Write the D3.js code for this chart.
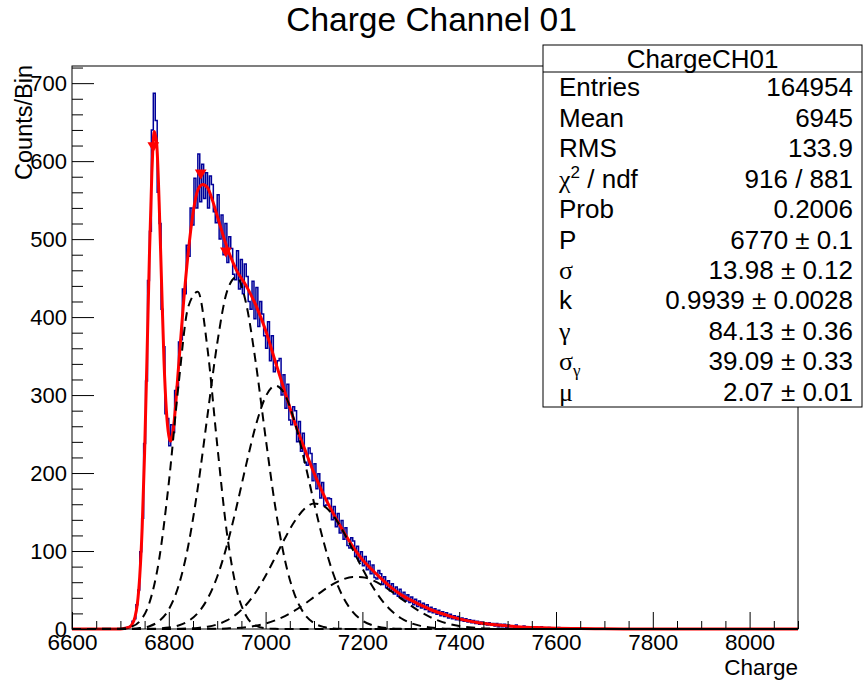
<!DOCTYPE html>
<html>
<head>
<meta charset="utf-8">
<script src="https://cdn.jsdelivr.net/npm/d3@7"></script>
<style>
  body { margin: 0; background: #fff; }
  svg text { font-family: "Liberation Sans", Arial, Helvetica, sans-serif; fill: #000; }
  .greek { font-family: "Liberation Serif", "DejaVu Serif", serif; }
</style>
</head>
<body>
<svg id="chart" width="863" height="681"></svg>
<script>
// histogram, 4-unit bins starting at histStart (counts)
const histStart = 6700;
const histStep = 4;
const histCounts = [
  0, 0, 1, 2, 3, 4, 10, 13, 31, 50,
  99, 142, 238, 318, 447, 510, 640, 687, 652, 560,
  520, 410, 362, 276, 270, 235, 262, 252, 306, 311,
  368, 371, 436, 430, 492, 478, 540, 518, 578, 540,
  609, 548, 596, 552, 585, 540, 581, 570, 535, 521,
  557, 500, 531, 480, 520, 470, 503, 488, 455, 448,
  485, 436, 474, 430, 468, 452, 420, 410, 446, 398,
  438, 388, 420, 404, 376, 360, 394, 344, 376, 330,
  336, 344, 347, 300, 326, 283, 314, 268, 262, 285,
  280, 240, 266, 228, 251, 214, 210, 232, 225, 190,
  212, 180, 199, 168, 188, 158, 159, 168, 167, 140,
  157, 131, 148, 123, 139, 115, 130, 107, 104, 117,
  113, 93, 106, 87, 99, 81, 93, 76, 87, 71,
  82, 66, 64, 75, 71, 57, 67, 53, 62, 49,
  58, 45, 54, 42, 51, 39, 47, 36, 44, 34,
  41, 31, 38, 29, 36, 27, 33, 25, 31, 22,
  28, 21, 26, 19, 24, 17, 22, 16, 21, 14,
  19, 13, 17, 12, 16, 11, 14, 10, 13, 9,
  12, 8, 11, 7, 10, 6, 9, 6, 8, 5,
  8, 5, 7, 4, 7, 3, 6, 3, 6, 2,
  5, 3, 4, 2, 5, 1, 3, 2, 4, 1,
  3, 1, 3, 0, 2, 2, 0, 3, 1, 1,
  0, 2, 0, 1, 1, 0, 2, 0, 1, 0,
  1, 0, 0, 1, 0, 0, 1, 0
];

// total fit (red), sampled along the drawn curve
const fitX = [6600, 6700, 6710, 6720, 6725, 6730, 6735, 6740, 6745, 6750,
  6755, 6760, 6765, 6770, 6775, 6780, 6785, 6790, 6795, 6800,
  6803, 6806, 6810, 6820, 6830, 6840, 6850, 6860, 6870, 6880,
  6890, 6900, 6920, 6940, 6960, 6980, 7000, 7020, 7040, 7060,
  7080, 7100, 7120, 7140, 7160, 7180, 7200, 7220, 7240, 7260,
  7280, 7300, 7320, 7340, 7360, 7380, 7400, 7440, 7480, 7520,
  7560, 7600, 7650, 7700, 7800, 8100];
const fitY = [0, 0, 1, 3, 7, 15, 32, 68, 130, 226,
  350, 480, 585, 638, 622, 548, 445, 345, 280, 248,
  241, 244, 260, 335, 415, 482, 533, 563, 570, 566,
  550, 530, 490, 460, 440, 415, 383, 343, 304, 265,
  232, 200, 172, 148, 126, 106, 89, 76, 64, 53,
  44, 37, 31, 25, 20.5, 16.5, 13, 8, 5, 3,
  1.8, 1, 0.5, 0.2, 0, 0];

// single photo-electron components (dashed)
const compX = [6600, 6700, 6720, 6740, 6760, 6780, 6800, 6820, 6840, 6860,
  6880, 6900, 6920, 6940, 6960, 6980, 7000, 7020, 7040, 7060,
  7080, 7100, 7120, 7140, 7160, 7180, 7200, 7220, 7240, 7260,
  7280, 7300, 7320, 7340, 7360, 7380, 7400, 7420, 7440, 7460,
  7480, 7500, 8100];
const comp1 = [0, 0.4, 2.4, 10, 33.6, 89.1, 187.4, 312.4, 412.8, 432.4,
  359.1, 236.5, 123.4, 51, 16.7, 4.4, 0.9, 0.2, 0, 0,
  0, 0, 0, 0, 0, 0, 0, 0, 0, 0,
  0, 0, 0, 0, 0, 0, 0, 0, 0, 0,
  0, 0, 0];
const comp2 = [0, 0.1, 0.3, 1.2, 3.6, 10.2, 25.1, 55, 106.2, 181.5,
  274.2, 366.1, 432.3, 451.4, 416.7, 340.1, 245.4, 156.6, 88.3, 44.1,
  19.4, 7.6, 2.6, 0.8, 0.2, 0, 0, 0, 0, 0,
  0, 0, 0, 0, 0, 0, 0, 0, 0, 0,
  0, 0, 0];
const comp3 = [0, 0, 0, 0.1, 0.2, 0.7, 1.8, 4.5, 10, 20.5,
  38.7, 67, 106.9, 156.7, 211.1, 261.5, 297.9, 312, 300.4, 265.9,
  216.5, 162, 111.5, 70.5, 41, 21.9, 10.8, 4.9, 2, 0.8,
  0.3, 0.1, 0, 0, 0, 0, 0, 0, 0, 0,
  0, 0, 0];
const comp4 = [0, 0, 0, 0, 0, 0, 0.1, 0.3, 0.6, 1.4,
  3, 5.9, 11, 19.1, 31.1, 47.5, 68.3, 92, 116.4, 138.1,
  153.8, 160.8, 157.8, 145.3, 125.5, 101.8, 77.5, 55.4, 37.1, 23.4,
  13.8, 7.6, 4, 1.9, 0.9, 0.4, 0.2, 0, 0, 0,
  0, 0, 0];
const comp5 = [0, 0, 0, 0, 0, 0, 0, 0, 0, 0.1,
  0.2, 0.3, 0.7, 1.3, 2.4, 4.2, 7, 11.1, 16.6, 23.5,
  31.8, 40.9, 49.9, 57.8, 63.7, 66.7, 66.4, 62.8, 56.4, 48.1,
  39, 30.1, 22, 15.3, 10.1, 6.4, 3.8, 2.2, 1.2, 0.6,
  0.3, 0.1, 0];

// peak-finder markers
const peakX = [6768, 6866, 6918];
const peakY = [620, 585, 485];

// axis ticks
const xMajor = [6600, 6800, 7000, 7200, 7400, 7600, 7800, 8000];
const yMajor = [0, 100, 200, 300, 400, 500, 600, 700];

// stats box
const statsTitle = "ChargeCH01";
const statsNames = ["Entries", "Mean", "RMS", "χ^2 / ndf", "Prob", "P", "σ", "k", "γ", "σ_γ", "μ"];
const statsValues = ["164954", "6945", "133.9", "916 / 881", "0.2006", "6770 ± 0.1",
  "13.98 ± 0.12", "0.9939 ± 0.0028", "84.13 ± 0.36", "39.09 ± 0.33", "2.07 ± 0.01"];

const W = 863, H = 681;
const frame = {left: 72, right: 798, top: 66, bottom: 629};

const svg = d3.select("#chart");
svg.append("rect").attr("width", W).attr("height", H).attr("fill", "#fff");

const x = d3.scaleLinear().domain([6600, 8100]).range([frame.left, frame.right]);
const y = d3.scaleLinear().domain([0, 722]).range([frame.bottom, frame.top]);

const plot = svg.append("g");

// histogram outline
const histPts = [[6600, 0]];
histCounts.forEach((c, i) => histPts.push([histStart + i * histStep, c]));
histPts.push([histStart + histCounts.length * histStep, 0]);
histPts.push([8100, 0]);
const stepLine = d3.line().x(d => x(d[0])).y(d => y(d[1])).curve(d3.curveStepAfter);
plot.append("path")
  .datum(histPts)
  .attr("d", stepLine)
  .attr("fill", "none")
  .attr("stroke", "#000099")
  .attr("stroke-width", 1.5);

// fit curve
const smooth = d3.line().x(d => x(d[0])).y(d => y(d[1])).curve(d3.curveMonotoneX);
plot.append("path")
  .datum(fitX.map((v, i) => [v, fitY[i]]))
  .attr("d", smooth)
  .attr("fill", "none")
  .attr("stroke", "#ff0000")
  .attr("stroke-width", 3);

// components
[comp1, comp2, comp3, comp4, comp5].forEach(comp => {
  plot.append("path")
    .datum(compX.map((v, i) => [v, comp[i]]))
    .attr("d", smooth)
    .attr("fill", "none")
    .attr("stroke", "#000")
    .attr("stroke-width", 2)
    .attr("stroke-dasharray", "9,6");
});

// markers
plot.selectAll(".peak")
  .data(peakX.map((v, i) => [v, peakY[i]]))
  .enter().append("path")
  .attr("class", "peak")
  .attr("d", d3.symbol(d3.symbolTriangle, 60))
  .attr("transform", d => `translate(${x(d[0])},${y(d[1])}) rotate(180)`)
  .attr("fill", "#ff0000");

// frame
svg.append("rect")
  .attr("x", frame.left).attr("y", frame.top)
  .attr("width", frame.right - frame.left).attr("height", frame.bottom - frame.top)
  .attr("fill", "none").attr("stroke", "#000").attr("stroke-width", 1);

// x axis
const xMinor = d3.range(6600, 8101, 50).filter(v => !xMajor.includes(v));
const xAxis = svg.append("g").attr("transform", `translate(0,${frame.bottom})`);
xAxis.call(d3.axisBottom(x).tickValues(xMajor).tickSize(-17).tickPadding(5).tickFormat(d3.format("d")));
xAxis.append("g").call(d3.axisBottom(x).tickValues(xMinor).tickSize(-8).tickFormat(""));
xAxis.selectAll(".domain").remove();
xAxis.selectAll("line").attr("stroke", "#000");
xAxis.selectAll("text").attr("font-size", 22.5).attr("font-family", "Liberation Sans, Arial, sans-serif");

// y axis
const yMinor = d3.range(0, 721, 20).filter(v => !yMajor.includes(v));
const yAxis = svg.append("g").attr("transform", `translate(${frame.left},0)`);
yAxis.call(d3.axisLeft(y).tickValues(yMajor).tickSize(-22).tickPadding(5).tickFormat(d3.format("d")));
yAxis.append("g").call(d3.axisLeft(y).tickValues(yMinor).tickSize(-11).tickFormat(""));
yAxis.selectAll(".domain").remove();
yAxis.selectAll("line").attr("stroke", "#000");
yAxis.selectAll("text").attr("font-size", 22).attr("font-family", "Liberation Sans, Arial, sans-serif");

// titles
svg.append("text").attr("x", W / 2).attr("y", 31).attr("text-anchor", "middle")
  .attr("font-size", 33.5).text("Charge Channel 01");
svg.append("text").attr("x", frame.right).attr("y", 675).attr("text-anchor", "end")
  .attr("font-size", 22.5).text("Charge");
svg.append("text").attr("transform", `translate(32,${frame.top - 1}) rotate(-90)`)
  .attr("text-anchor", "end").attr("font-size", 23.5).text("Counts/Bin");

// stats box
const box = {left: 543, right: 862, top: 45, head: 72, bottom: 407};
const sb = svg.append("g");
sb.append("rect").attr("x", box.left).attr("y", box.top)
  .attr("width", box.right - box.left).attr("height", box.bottom - box.top)
  .attr("fill", "#fff").attr("stroke", "#000").attr("stroke-width", 1);
sb.append("line").attr("x1", box.left).attr("x2", box.right)
  .attr("y1", box.head).attr("y2", box.head).attr("stroke", "#000");
sb.append("text").attr("x", (box.left + box.right) / 2).attr("y", 68)
  .attr("text-anchor", "middle").attr("font-size", 26).text(statsTitle);

const rowH = (box.bottom - box.head) / statsNames.length;
statsNames.forEach((name, i) => {
  const yy = box.head + rowH * (i + 0.5) + 9;
  const t = sb.append("text").attr("x", 559).attr("y", yy).attr("font-size", 26);
  const greek = /[σγμχ]/;
  const m = name.match(/^(.)([\^_])(.)(.*)$/);
  if (m) {
    t.append("tspan").attr("class", "greek").text(m[1]);
    t.append("tspan").attr("font-size", 17)
      .attr("class", greek.test(m[3]) ? "greek" : null)
      .attr("dy", m[2] === "^" ? -10 : 6).text(m[3]);
    t.append("tspan").attr("dy", m[2] === "^" ? 10 : -6).text(m[4]);
  } else {
    t.attr("class", greek.test(name) ? "greek" : null).text(name);
  }
  sb.append("text").attr("x", 853).attr("y", yy).attr("text-anchor", "end")
    .attr("font-size", 26).text(statsValues[i]);
});
</script>
</body>
</html>
